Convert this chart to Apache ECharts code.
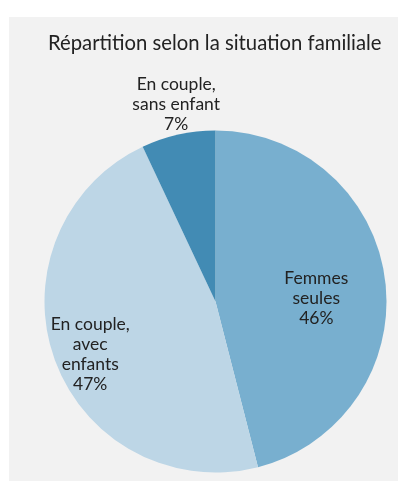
<!DOCTYPE html>
<html>
<head>
<meta charset="utf-8">
<style>
html,body{margin:0;padding:0;background:#ffffff;}
#chart{width:405px;height:481px;}
</style>
<script src="https://cdn.jsdelivr.net/npm/echarts@6/dist/echarts.min.js"></script>
</head>
<body>
<div id="chart"></div>
<script>
var titleText = "Répartition selon la situation familiale";
var categories = ["Femmes\nseules", "En couple,\navec\nenfants", "En couple,\nsans enfant"];
var values = [46, 47, 7];
var colors = ["#78afcf", "#bdd6e6", "#428bb4"];
var labelOffsets = [[13, 8], [-42, 23], [-20, -111]];

var chart = echarts.init(document.getElementById('chart'), null, {renderer: 'canvas'});
var data = categories.map(function (c, i) {
  return {
    name: c,
    value: values[i],
    itemStyle: {color: colors[i]},
    label: {offset: labelOffsets[i]}
  };
});
chart.setOption({
  backgroundColor: '#ffffff',
  animation: false,
  graphic: [{
    type: 'rect', z: -10, silent: true,
    shape: {x: 9, y: 17, width: 389, height: 464},
    style: {fill: '#f2f2f2'}
  }],
  title: {
    text: titleText,
    left: 43,
    top: 28,
    textStyle: {fontFamily: 'Lato', fontWeight: 'normal', fontSize: 20.3, color: '#222222'}
  },
  series: [{
    type: 'pie',
    center: [215.5, 301.5],
    radius: [0, 171],
    startAngle: 90,
    clockwise: true,
    avoidLabelOverlap: false,
    label: {
      show: true,
      position: 'inside',
      formatter: function (p) { return p.name + '\n' + p.value + '%'; },
      fontFamily: 'Lato',
      fontSize: 17.5,
      lineHeight: 20,
      color: '#222222',
      align: 'center'
    },
    labelLine: {show: false},
    itemStyle: {borderWidth: 0},
    emphasis: {disabled: true},
    data: data
  }]
});
</script>
</body>
</html>
